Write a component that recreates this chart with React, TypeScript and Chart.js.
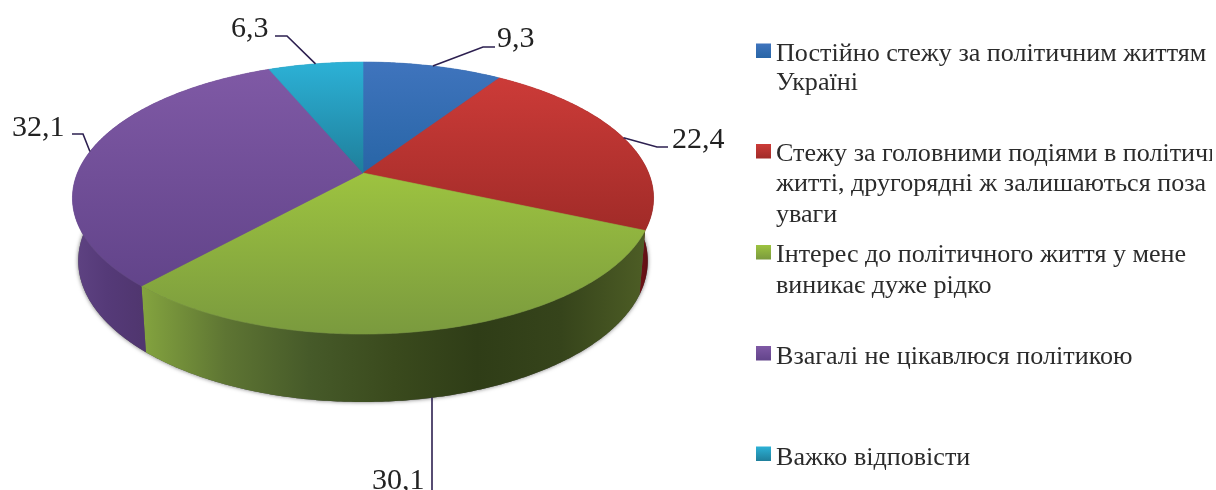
import React, { useEffect, useRef } from "react";
import { Chart, registerables } from "chart.js";

Chart.register(...registerables);

const values = [9.3, 22.4, 30.1, 32.1, 6.3];
const valueLabels = ["9,3", "22,4", "30,1", "32,1", "6,3"];
const categories = [
  ["Постійно стежу за політичним життям", "Україні"],
  ["Стежу за головними подіями в політичному", "житті, другорядні ж залишаються поза", "уваги"],
  ["Інтерес до політичного життя у мене", "виникає дуже рідко"],
  ["Взагалі не цікавлюся політикою"],
  ["Важко відповісти"],
];
const topLight = ["#3f74bd", "#cc3b38", "#9dc340", "#7f59a5", "#2cb1d6"];
const topDark = ["#2865a6", "#a12b28", "#7a9a3e", "#62448a", "#1f7f9b"];
const wallStops: string[][] = [
  ["#1d4a7c", "#1d4a7c"],
  ["#6a1216", "#560c10"],
  ["#84a43f", "#5e7533", "#465a29", "#3a4a1d", "#2f3d17", "#36441b", "#4d5d25"],
  ["#5f4383", "#553a78", "#50366f"],
  ["#1c6f87", "#1c6f87"],
];

// Projection of the unit disc on to the slanted page plane
const APEX_X = 363;
const APEX_Y = 173;
const SCALE_X = 285.6;
const SCALE_Y = 131.4;
const TILT = 0.184;
const BASE_Y = 235;
const BASE_SX = 0.98;
const BASE_SY = 1.037;

const top = (a: number) => {
  const d = 1 - TILT * Math.sin(a);
  return [APEX_X + (SCALE_X * Math.cos(a)) / d, APEX_Y + (SCALE_Y * Math.sin(a)) / d];
};
const base = (a: number) => {
  const d = 1 - TILT * Math.sin(a);
  return [
    APEX_X + (BASE_SX * SCALE_X * Math.cos(a)) / d,
    BASE_Y + (BASE_SY * SCALE_Y * Math.sin(a)) / d,
  ];
};

const trace = (ctx: CanvasRenderingContext2D, f: (a: number) => number[], s: number, e: number, first: boolean) => {
  const n = Math.max(2, Math.ceil(Math.abs(e - s) / 0.01));
  for (let i = 0; i <= n; i++) {
    const p = f(s + ((e - s) * i) / n);
    if (first && i === 0) ctx.moveTo(p[0], p[1]);
    else ctx.lineTo(p[0], p[1]);
  }
};

const LINE = "#2d2050";
const LABEL_FONT = "30px 'Liberation Serif'";
const LEGEND_FONT = "26.1px 'Liberation Serif'";
// elbow and end of each leader line, label origin
const leaders = [
  { elbow: [483, 47], end: [495, 47], text: [497, 47], usesBase: false },
  { elbow: [657, 147], end: [668, 147], text: [672, 148], usesBase: false },
  { elbow: null, end: [432, 490], text: [372, 489], usesBase: true },
  { elbow: [83, 134], end: [72, 134], text: [12, 136], usesBase: false },
  { elbow: [287, 36], end: [275, 36], text: [231, 37], usesBase: false },
];
const legendX = 776;
const legendSwatchX = 756;
const legendBaselines = [[60.5, 90], [160.5, 191, 222], [261.5, 293], [363.5], [464.5]];
const swatchTops = [43.5, 144, 245, 346, 446.5];

const pie3d = {
  id: "pie3d",
  beforeDatasetDraw(chart: any) {
    const ctx: CanvasRenderingContext2D = chart.ctx;
    const arcs = chart.getDatasetMeta(0).data;
    const full = -Math.PI / 2;

    // soft edge under the disc
    ctx.save();
    ctx.shadowColor = "rgba(0,0,0,0.55)";
    ctx.shadowBlur = 4;
    ctx.fillStyle = "#555";
    ctx.beginPath();
    trace(ctx, base, full, full + 2 * Math.PI, true);
    ctx.closePath();
    ctx.fill();
    ctx.restore();

    // side walls
    arcs.forEach((arc: any, i: number) => {
      const { startAngle: s, endAngle: e } = arc.getProps(["startAngle", "endAngle"], true);
      let x0 = Infinity;
      let x1 = -Infinity;
      const samples = 80;
      for (let k = 0; k <= samples; k++) {
        const a = s + ((e - s) * k) / samples;
        if (Math.sin(a) < -0.1) continue;
        const x = top(a)[0];
        x0 = Math.min(x0, x);
        x1 = Math.max(x1, x);
      }
      if (x0 === Infinity) {
        x0 = 0;
        x1 = 1;
      }
      const g = ctx.createLinearGradient(x0, 0, x1, 0);
      wallStops[i].forEach((c, k) => g.addColorStop(k / (wallStops[i].length - 1), c));
      ctx.fillStyle = g;
      ctx.beginPath();
      trace(ctx, top, s, e, true);
      trace(ctx, base, e, s, false);
      ctx.closePath();
      ctx.fill();
    });

    // top face
    arcs.forEach((arc: any, i: number) => {
      const { startAngle: s, endAngle: e } = arc.getProps(["startAngle", "endAngle"], true);
      let y0 = APEX_Y;
      let y1 = APEX_Y;
      for (let k = 0; k <= 80; k++) {
        const y = top(s + ((e - s) * k) / 80)[1];
        y0 = Math.min(y0, y);
        y1 = Math.max(y1, y);
      }
      const g = ctx.createLinearGradient(0, y0, 0, y1);
      g.addColorStop(0, topLight[i]);
      g.addColorStop(1, topDark[i]);
      ctx.fillStyle = g;
      ctx.strokeStyle = g;
      ctx.lineWidth = 0.6;
      ctx.beginPath();
      ctx.moveTo(APEX_X, APEX_Y);
      trace(ctx, top, s, e, false);
      ctx.closePath();
      ctx.fill();
      ctx.stroke();
    });
    return false;
  },
  afterDraw(chart: any) {
    const ctx: CanvasRenderingContext2D = chart.ctx;
    const arcs = chart.getDatasetMeta(0).data;
    ctx.save();
    ctx.textBaseline = "alphabetic";
    ctx.textAlign = "left";

    // leader lines and value labels
    arcs.forEach((arc: any, i: number) => {
      const { startAngle: s, endAngle: e } = arc.getProps(["startAngle", "endAngle"], true);
      const l = leaders[i];
      const m = (s + e) / 2;
      const p = l.usesBase ? base(m) : top(m);
      ctx.strokeStyle = LINE;
      ctx.lineWidth = 1.6;
      ctx.beginPath();
      if (l.usesBase) {
        ctx.moveTo(l.end[0], p[1]);
      } else {
        ctx.moveTo(p[0], p[1]);
        ctx.lineTo(l.elbow![0], l.elbow![1]);
      }
      ctx.lineTo(l.end[0], l.end[1]);
      ctx.stroke();
      ctx.fillStyle = "#222";
      ctx.font = LABEL_FONT;
      ctx.fillText(valueLabels[i], l.text[0], l.text[1]);
    });

    // legend
    ctx.save();
    ctx.beginPath();
    ctx.rect(0, 0, 1212, 490);
    ctx.clip();
    categories.forEach((lines, i) => {
      const ys = legendBaselines[i];
      const sy = swatchTops[i];
      const g = ctx.createLinearGradient(0, sy, 0, sy + 14.5);
      g.addColorStop(0, topLight[i]);
      g.addColorStop(1, topDark[i]);
      ctx.fillStyle = g;
      ctx.fillRect(legendSwatchX, sy, 15, 14.5);
      ctx.fillStyle = "#2b2b2b";
      ctx.font = LEGEND_FONT;
      lines.forEach((t, k) => ctx.fillText(t, legendX, ys[k]));
    });
    ctx.restore();
    ctx.restore();
  },
};

export default function App() {
  const ref = useRef<HTMLCanvasElement>(null);
  useEffect(() => {
    const chart = new Chart(ref.current!, {
      type: "pie",
      data: {
        labels: categories.map((c) => c.join(" ")),
        datasets: [{ data: values, backgroundColor: topLight, borderWidth: 0 }],
      },
      options: {
        animation: false,
        responsive: false,
        events: [],
        plugins: { legend: { display: false }, tooltip: { enabled: false } },
      },
      plugins: [pie3d],
    } as any);
    return () => chart.destroy();
  }, []);
  return (
    <canvas
      ref={ref}
      width={1216}
      height={490}
      style={{ position: "absolute", left: 0, top: 0, width: 1216, height: 490, display: "block", background: "#fff" }}
    />
  );
}
